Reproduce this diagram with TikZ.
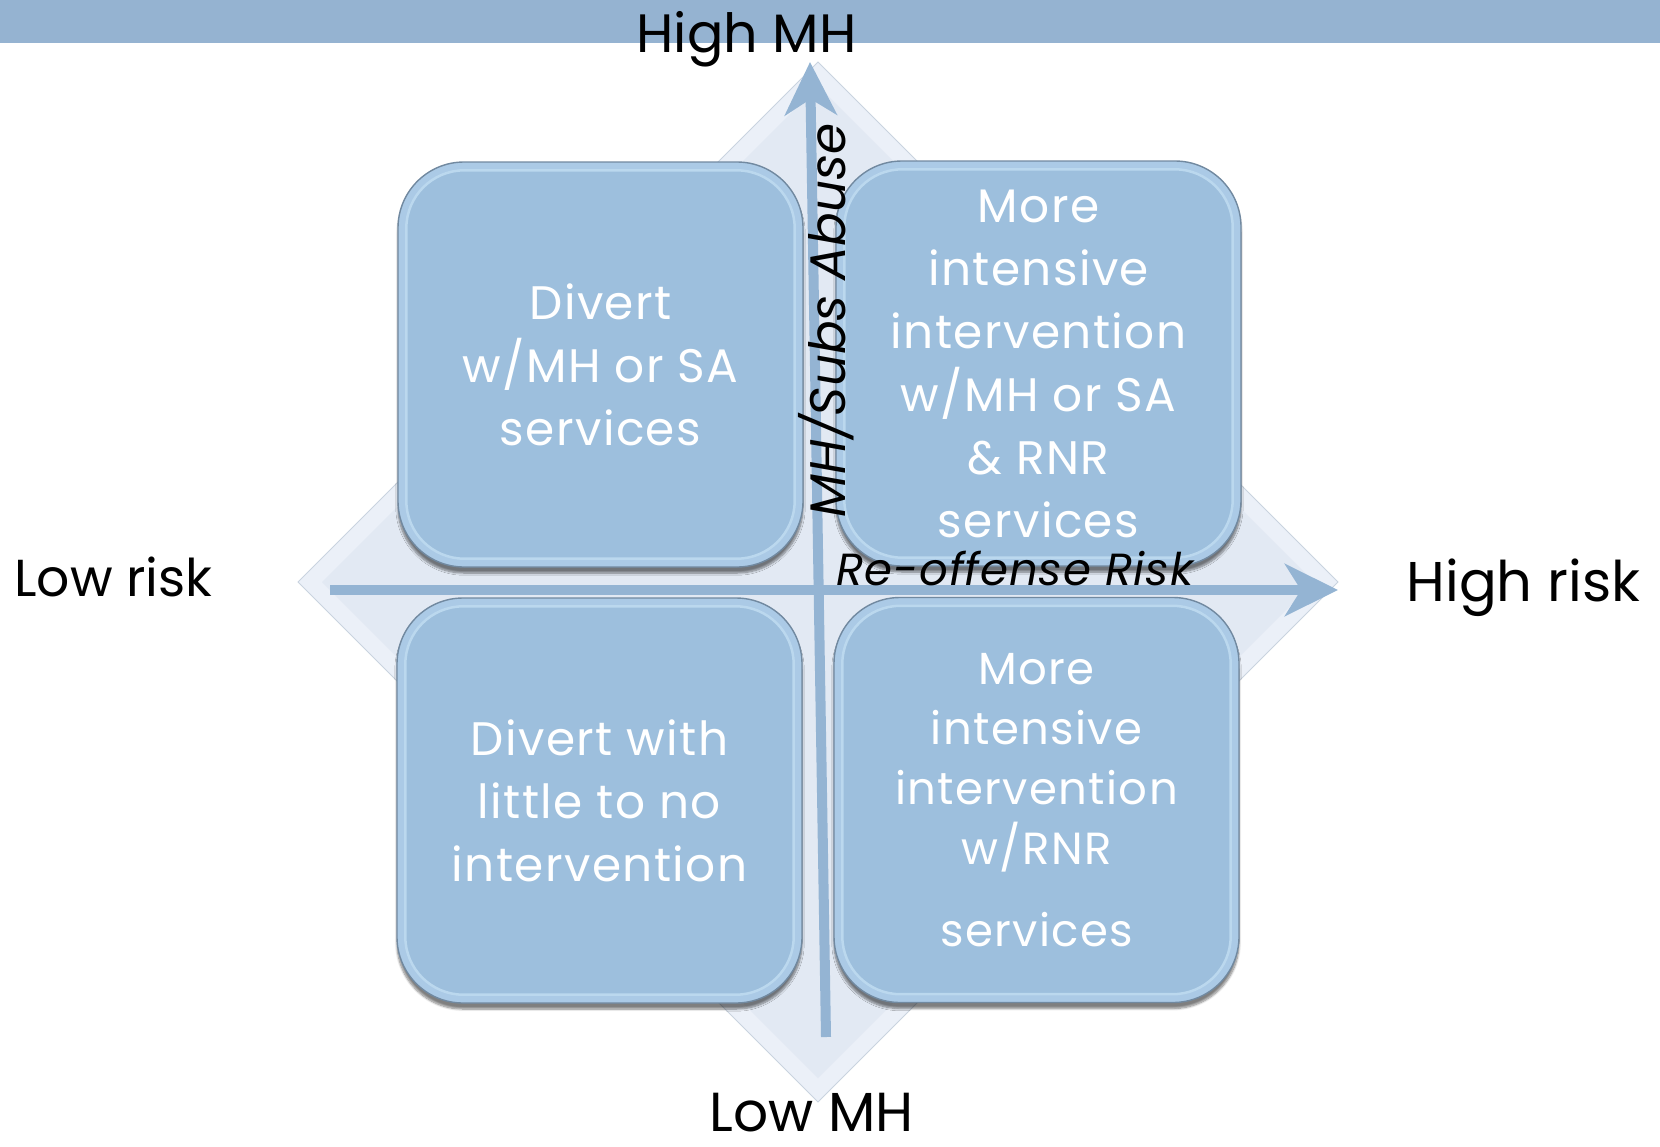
\documentclass[tikz,border=0pt]{standalone}
\usepackage{fontspec}
\setmainfont{Poppins}
\usetikzlibrary{arrows.meta,shadows.blur,calc}
\definecolor{barblue}{HTML}{95B3D1}
\definecolor{axisblue}{HTML}{94B4D3}
\definecolor{boxfill}{HTML}{9DBFDD}
\definecolor{boxrim}{HTML}{ABCAE6}
\definecolor{boxedge}{HTML}{7189A0}
\definecolor{rimhi}{HTML}{BBD8EE}
\definecolor{diaout}{HTML}{EBF0F8}
\definecolor{diain}{HTML}{E2E9F3}
\definecolor{diaedge}{HTML}{C9D3DF}
\begin{document}
\begin{tikzpicture}[x=1pt,y=-1pt,
  qbox/.style={rectangle, rounded corners=66pt, minimum width=405pt, minimum height=405pt,
    fill=boxrim, draw=boxedge, line width=1.4pt, inner sep=0pt,
    blur shadow={shadow xshift=0pt, shadow yshift=-6pt, shadow opacity=50, shadow blur steps=8}},
  qrim/.style={rounded corners=58pt, fill=boxfill, draw=rimhi, line width=2.5pt},
  qtext/.style={text=white, align=center, inner sep=0pt, font=\fontsize{47}{63}\selectfont\addfontfeatures{LetterSpace=3}},
  qtextsmall/.style={text=white, align=center, inner sep=0pt, font=\fontsize{45}{60}\selectfont\addfontfeatures{LetterSpace=3}},
  lbl/.style={text=black, inner sep=0pt, anchor=base},
  axlbl/.style={text=black, inner sep=0pt, anchor=base},
  axis/.style={line width=10pt, draw=axisblue, -{Stealth[length=53pt,width=52pt,inset=16pt]}}
]
\useasboundingbox (0,0) rectangle (1660,1146);
% top bar
\fill[barblue] (0,0) rectangle (1660,43);
% diamond
\filldraw[fill=diaout, draw=diaedge, line width=0.8pt] (818,62) -- (1338,582) -- (818,1102) -- (298,582) -- cycle;
\fill[diain] (818,86) -- (1314,582) -- (818,1078) -- (322,582) -- cycle;
% axes
\coordinate (hstart) at (330,590);
\coordinate (hend) at (1338,590);
\coordinate (vstart) at (826,1037);
\coordinate (vend) at (810,62);
\draw[axis] (hstart) -- (hend);
\draw[axis] (vstart) -- (vend);
% boxes
\node[qbox] (tl) at (600.5,364.5) {};
\node[qbox] (tr) at (1038.5,363.5) {};
\node[qbox] (bl) at (599.5,800.5) {};
\node[qbox] (br) at (1036.5,800) {};
\foreach \b in {tl,tr,bl,br}{
  \draw[qrim] ($(\b.north west)+(9,9)$) rectangle ($(\b.south east)+(-9,-9)$);
}
\node[qtext] (tltxt) at (tl) {Divert\\w/MH or SA\\services};
\node[qtext] (trtxt) at (tr) {More\\intensive\\intervention\\w/MH or SA\\\& RNR\\services};
\node[qtext] (bltxt) at (bl) {Divert with\\little to no\\intervention};
\node[qtextsmall] (brtxt) at (br) {More\\intensive\\intervention\\w/RNR\\[22pt]services};
% axis labels
\node[axlbl, font=\fontsize{45}{48}\selectfont\itshape\addfontfeatures{LetterSpace=2}] (xlbl) at (1015,585) {Re-offense Risk};
\node[axlbl, rotate=90, font=\fontsize{50}{54}\selectfont\itshape] (ylbl) at (845,320.5) {MH/Subs Abuse};
% pole labels
\node[lbl, font=\fontsize{54}{58}\selectfont] (highmh) at (746.5,52) {High MH};
\node[lbl, font=\fontsize{55}{60}\selectfont] (lowmh) at (811.5,1131) {Low MH};
\node[lbl, font=\fontsize{52}{56}\selectfont] (lowrisk) at (113.5,596) {Low risk};
\node[lbl, font=\fontsize{56}{60}\selectfont] (highrisk) at (1523.5,601) {High risk};
\end{tikzpicture}
\end{document}
